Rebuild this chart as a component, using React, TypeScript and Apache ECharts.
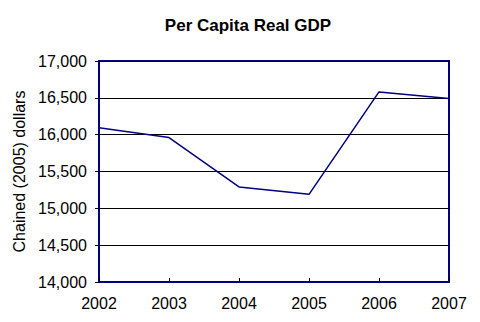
import React, { useEffect, useRef } from "react";
import * as echarts from "echarts";

const years = ["2002", "2003", "2004", "2005", "2006", "2007"];
const gdpPerCapita = [16095, 15960, 15290, 15190, 16580, 16490];
const title = "Per Capita Real GDP";
const yAxisName = "Chained (2005) dollars";

const NAVY = "#000080";
const FONT = "Arial, 'Liberation Sans', sans-serif";

export default function App() {
  const ref = useRef<HTMLDivElement>(null);
  useEffect(() => {
    if (!ref.current) return;
    const chart = echarts.init(ref.current, undefined, { renderer: "svg" });
    chart.setOption({
      animation: false,
      backgroundColor: "#ffffff",
      title: {
        text: title,
        left: 243,
        top: 12,
        textAlign: "center",
        textStyle: { fontFamily: FONT, fontSize: 17, fontWeight: "bold", color: "#000" },
      },
      grid: {
        left: 99,
        right: 31,
        top: 61,
        bottom: 40,
        show: true,
        borderColor: NAVY,
        borderWidth: 2,
        backgroundColor: "transparent",
      },
      xAxis: {
        type: "category",
        data: years,
        boundaryGap: false,
        axisLine: { show: true, lineStyle: { color: NAVY, width: 2 } },
        axisTick: { show: true, inside: true, length: 4, lineStyle: { color: "#000", width: 1 } },
        axisLabel: { color: "#000", fontFamily: FONT, fontSize: 16, margin: 13 },
        splitLine: { show: false },
      },
      yAxis: {
        type: "value",
        min: 14000,
        max: 17000,
        interval: 500,
        name: yAxisName,
        nameLocation: "middle",
        nameGap: 72,
        nameTextStyle: { color: "#000", fontFamily: FONT, fontSize: 16 },
        axisLine: { show: true, lineStyle: { color: NAVY, width: 2 } },
        axisTick: { show: true, inside: false, length: 4, lineStyle: { color: "#000", width: 1 } },
        axisLabel: {
          color: "#000",
          fontFamily: FONT,
          fontSize: 16,
          margin: 12,
          formatter: (v: number) => v.toLocaleString("en-US"),
        },
        splitLine: { show: true, lineStyle: { color: "#000", width: 1 } },
      },
      series: [
        {
          type: "line",
          data: gdpPerCapita,
          symbol: "none",
          lineStyle: { color: NAVY, width: 1.5 },
        },
      ],
    });
    return () => chart.dispose();
  }, []);
  return (
    <div
      ref={ref}
      style={{ position: "fixed", left: 0, top: 0, width: 480, height: 322, background: "#fff" }}
    />
  );
}
